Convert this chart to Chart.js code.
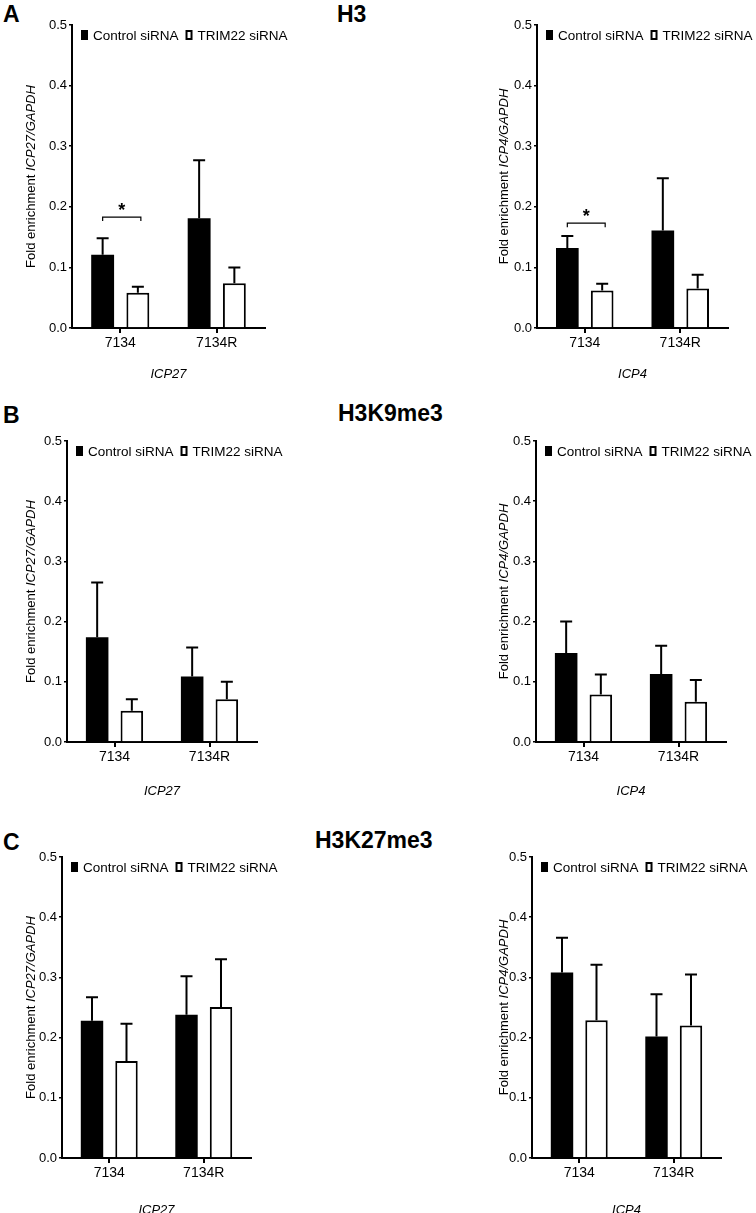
<!DOCTYPE html>
<html>
<head>
<meta charset="utf-8">
<script src="https://cdn.jsdelivr.net/npm/chart.js@4"></script>
<style>
  body { margin: 0; background: #fff; width: 756px; height: 1213px; position: relative; overflow: hidden; font-family: 'Liberation Sans', Arial, sans-serif; }
  canvas { position: absolute; }
  .lbl { position: absolute; font-weight: bold; font-size: 23px; color: #000; line-height: 1; }
</style>
</head>
<body>
<div class="lbl" style="left:3px;top:3px">A</div>
<div class="lbl" style="left:337px;top:3px">H3</div>
<div class="lbl" style="left:3px;top:404px">B</div>
<div class="lbl" style="left:338px;top:402px">H3K9me3</div>
<div class="lbl" style="left:3px;top:831px">C</div>
<div class="lbl" style="left:315px;top:829px">H3K27me3</div>

<canvas id="a1"></canvas>
<canvas id="a2"></canvas>
<canvas id="b1"></canvas>
<canvas id="b2"></canvas>
<canvas id="c1"></canvas>
<canvas id="c2"></canvas>

<script>
// data
var categories = ["7134", "7134R"];
var seriesNames = ["Control siRNA", "TRIM22 siRNA"];
var yTicks = [0.0, 0.1, 0.2, 0.3, 0.4, 0.5];

// H3
var h3Icp27Control = [0.121, 0.181];
var h3Icp27ControlErr = [0.027, 0.096];
var h3Icp27Trim = [0.058, 0.074];
var h3Icp27TrimErr = [0.010, 0.026];

var h3Icp4Control = [0.132, 0.161];
var h3Icp4ControlErr = [0.020, 0.086];
var h3Icp4Trim = [0.062, 0.065];
var h3Icp4TrimErr = [0.011, 0.023];

// H3K9me3
var k9Icp27Control = [0.174, 0.109];
var k9Icp27ControlErr = [0.091, 0.048];
var k9Icp27Trim = [0.052, 0.071];
var k9Icp27TrimErr = [0.019, 0.029];

var k9Icp4Control = [0.148, 0.113];
var k9Icp4ControlErr = [0.052, 0.047];
var k9Icp4Trim = [0.079, 0.067];
var k9Icp4TrimErr = [0.033, 0.036];

// H3K27me3
var k27Icp27Control = [0.228, 0.238];
var k27Icp27ControlErr = [0.039, 0.064];
var k27Icp27Trim = [0.161, 0.251];
var k27Icp27TrimErr = [0.062, 0.079];

var k27Icp4Control = [0.308, 0.202];
var k27Icp4ControlErr = [0.058, 0.070];
var k27Icp4Trim = [0.229, 0.220];
var k27Icp4TrimErr = [0.092, 0.085];

// significance bracket (category index, bracket height)
var sigA1 = {cat: 0, y: 0.183, text: "*"};
var sigA2 = {cat: 0, y: 0.173, text: "*"};

var FONT = "'Liberation Sans', Arial, sans-serif";

var annotPlugin = {
    id: 'annot',
    afterDatasetsDraw: function(chart) {
        var o = chart.options.plugins.annot;
        var ctx = chart.ctx;
        var area = chart.chartArea;
        var ys = chart.scales.y;
        ctx.save();

        // error bars (upper only)
        ctx.strokeStyle = '#000';
        ctx.lineWidth = 2;
        chart.data.datasets.forEach(function(ds, i) {
            var meta = chart.getDatasetMeta(i);
            meta.data.forEach(function(bar, j) {
                var top = ys.getPixelForValue(ds.data[j] + ds.err[j]);
                ctx.beginPath();
                ctx.moveTo(bar.x, bar.y);
                ctx.lineTo(bar.x, top);
                ctx.moveTo(bar.x - 6, top);
                ctx.lineTo(bar.x + 6, top);
                ctx.stroke();
            });
        });

        // significance bracket
        if (o.sig) {
            var b0 = chart.getDatasetMeta(0).data[o.sig.cat];
            var b1 = chart.getDatasetMeta(1).data[o.sig.cat];
            var yy = ys.getPixelForValue(o.sig.y);
            ctx.lineWidth = 1.2;
            ctx.beginPath();
            ctx.moveTo(b0.x, yy + 4);
            ctx.lineTo(b0.x, yy);
            ctx.lineTo(b1.x + 3, yy);
            ctx.lineTo(b1.x + 3, yy + 4);
            ctx.stroke();
            ctx.fillStyle = '#000';
            ctx.font = 'bold 18px ' + FONT;
            ctx.textAlign = 'center';
            ctx.textBaseline = 'middle';
            ctx.fillText(o.sig.text, (b0.x + b1.x + 3) / 2, yy - 6);
        }

        // legend inside plot
        ctx.font = '13.5px ' + FONT;
        ctx.textAlign = 'left';
        ctx.textBaseline = 'middle';
        ctx.fillStyle = '#000';
        var ly = area.top + 10;
        var lx = area.left + 9;
        ctx.fillRect(lx, ly - 5, 7, 10);
        ctx.fillText(seriesNames[0], lx + 12, ly + 1);
        lx = lx + 12 + ctx.measureText(seriesNames[0]).width + 7;
        ctx.lineWidth = 2;
        ctx.strokeRect(lx + 1, ly - 4, 5, 8);
        ctx.fillText(seriesNames[1], lx + 12, ly + 1);

        // y axis title, mixed roman / italic
        ctx.save();
        ctx.translate(o.yTitleX, (area.top + area.bottom) / 2);
        ctx.rotate(-Math.PI / 2);
        var p1 = 'Fold enrichment ', p2 = o.gene + '/GAPDH';
        ctx.font = '13px ' + FONT;
        var w1 = ctx.measureText(p1).width;
        ctx.font = 'italic 13px ' + FONT;
        var w2 = ctx.measureText(p2).width;
        var sx = -(w1 + w2) / 2;
        ctx.font = '13px ' + FONT;
        ctx.fillText(p1, sx, 0);
        ctx.font = 'italic 13px ' + FONT;
        ctx.fillText(p2, sx + w1, 0);
        ctx.restore();

        // x axis title
        ctx.font = 'italic 13px ' + FONT;
        ctx.textAlign = 'center';
        ctx.fillText(o.gene, (area.left + area.right) / 2, area.bottom + o.xTitleDy);

        ctx.restore();
    }
};

function makePanel(id, box, gene, control, controlErr, trim, trimErr, sig) {
    var padL = 70, padT = 15, padR = 40, padB = 62;
    var cv = document.getElementById(id);
    cv.width = padL + box.w + padR;
    cv.height = padT + box.h + padB;
    cv.style.left = (box.l - padL) + 'px';
    cv.style.top = (box.t - padT) + 'px';

    return new Chart(cv.getContext('2d'), {
        type: 'bar',
        data: {
            labels: categories,
            datasets: [{
                label: seriesNames[0],
                data: control,
                err: controlErr,
                backgroundColor: '#000',
                borderColor: '#000',
                borderWidth: 0,
                categoryPercentage: 0.73,
                barPercentage: 0.65
            }, {
                label: seriesNames[1],
                data: trim,
                err: trimErr,
                backgroundColor: '#fff',
                borderColor: '#000',
                borderWidth: 2,
                categoryPercentage: 0.73,
                barPercentage: 0.65
            }]
        },
        options: {
            responsive: false,
            animation: false,
            layout: { padding: { left: 0, top: padT, right: padR, bottom: 0 } },
            plugins: {
                legend: { display: false },
                tooltip: { enabled: false },
                annot: { gene: gene, sig: sig, yTitleX: box.yt - (box.l - padL), xTitleDy: box.xd }
            },
            scales: {
                x: {
                    afterFit: function(s) { s.height = padB; },
                    grid: { display: true, drawOnChartArea: false, offset: false, color: '#000', lineWidth: 2, tickLength: 5 },
                    border: { color: '#000', width: 2 },
                    ticks: { color: '#000', font: { family: FONT, size: 14 }, padding: 2 }
                },
                y: {
                    min: 0, max: 0.5,
                    afterFit: function(s) { s.width = padL; },
                    afterBuildTicks: function(s) { s.ticks = yTicks.map(function(v) { return {value: v}; }); },
                    grid: { drawOnChartArea: false, color: '#000', lineWidth: 1.5, tickLength: 3 },
                    border: { color: '#000', width: 2 },
                    ticks: {
                        color: '#000', font: { family: FONT, size: 13 }, padding: 2,
                        callback: function(v) { return Number(v).toFixed(1); }
                    }
                }
            }
        },
        plugins: [annotPlugin]
    });
}

makePanel('a1', {l: 72, t: 25, w: 193, h: 303, yt: 31, xd: 46}, 'ICP27', h3Icp27Control, h3Icp27ControlErr, h3Icp27Trim, h3Icp27TrimErr, sigA1);
makePanel('a2', {l: 537, t: 25, w: 191, h: 303, yt: 504, xd: 46}, 'ICP4', h3Icp4Control, h3Icp4ControlErr, h3Icp4Trim, h3Icp4TrimErr, sigA2);
makePanel('b1', {l: 67, t: 441, w: 190, h: 301, yt: 31, xd: 49}, 'ICP27', k9Icp27Control, k9Icp27ControlErr, k9Icp27Trim, k9Icp27TrimErr, null);
makePanel('b2', {l: 536, t: 441, w: 190, h: 301, yt: 504, xd: 49}, 'ICP4', k9Icp4Control, k9Icp4ControlErr, k9Icp4Trim, k9Icp4TrimErr, null);
makePanel('c1', {l: 62, t: 857, w: 189, h: 301, yt: 31, xd: 52}, 'ICP27', k27Icp27Control, k27Icp27ControlErr, k27Icp27Trim, k27Icp27TrimErr, null);
makePanel('c2', {l: 532, t: 857, w: 189, h: 301, yt: 504, xd: 52}, 'ICP4', k27Icp4Control, k27Icp4ControlErr, k27Icp4Trim, k27Icp4TrimErr, null);
</script>
</body>
</html>
